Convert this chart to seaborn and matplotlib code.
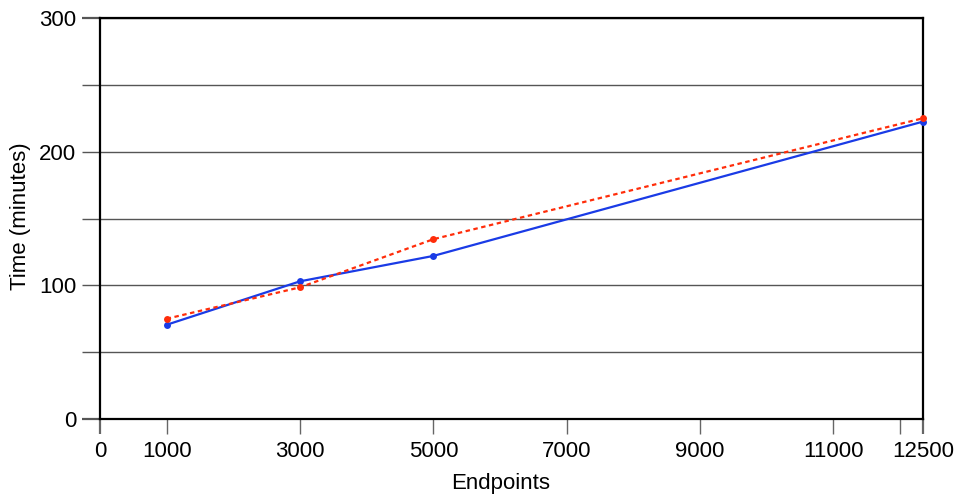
import numpy as np
import pandas as pd
import matplotlib
matplotlib.use("Agg")
import matplotlib.pyplot as plt
import seaborn as sns

# Measured run times (minutes) per endpoint count
endpoints = [1000, 3000, 5000, 12500]
series_a = [70.5, 103.0, 122.0, 222.5]   # solid blue
series_b = [75.0, 98.5, 134.5, 225.0]    # dotted red
series_names = ["A", "B"]

x_ticks = [0, 1000, 3000, 5000, 7000, 9000, 11000, 12000, 12500]
x_labels = ["0", "1000", "3000", "5000", "7000", "9000", "11000", "", "12500"]
y_major = [0, 100, 200, 300]
y_minor = [50, 150, 250]

sns.set_style("white")
plt.rcParams["font.family"] = ["Liberation Sans", "DejaVu Sans"]
plt.rcParams["text.color"] = "black"
plt.rcParams["axes.labelcolor"] = "black"
plt.rcParams["xtick.labelcolor"] = "black"
plt.rcParams["ytick.labelcolor"] = "black"

df = pd.DataFrame({
    "Endpoints": endpoints * 2,
    "Time": series_a + series_b,
    "Series": [series_names[0]] * len(endpoints) + [series_names[1]] * len(endpoints),
})

fig = plt.figure(figsize=(9.55, 4.95), dpi=100)
ax = fig.add_axes([100 / 955, 1 - 419 / 495, 823 / 955, 401 / 495])

# x axis compresses slightly past 12000
def fwd(x):
    x = np.asarray(x, dtype=float)
    return np.where(x <= 12000, x, 12000 + (x - 12000) * 0.69)

def inv(u):
    u = np.asarray(u, dtype=float)
    return np.where(u <= 12000, u, 12000 + (u - 12000) / 0.69)

ax.set_xscale("function", functions=(fwd, inv))

palette = {series_names[0]: "#1a3be6", series_names[1]: "#ff2d0a"}
sns.lineplot(data=df, x="Endpoints", y="Time", hue="Series", palette=palette,
             style="Series", dashes={series_names[0]: "", series_names[1]: (2, 1.6)},
             markers={series_names[0]: "o", series_names[1]: "o"},
             markersize=5, markeredgewidth=0, linewidth=1.6, legend=False,
             ax=ax, clip_on=False, zorder=3)

ax.set_xlim(0, 12500)
ax.set_ylim(0, 300)
ax.set_xticks(x_ticks)
ax.set_xticklabels(x_labels)
ax.set_yticks(y_major)
ax.set_yticks(y_minor, minor=True)
ax.xaxis.set_minor_locator(matplotlib.ticker.NullLocator())

ax.tick_params(axis="x", which="major", direction="out", length=11, width=1,
               color="#666666", labelsize=16, pad=5, bottom=True, labelcolor="black")
ax.tick_params(axis="y", which="both", direction="out", length=13, width=1,
               color="#555555", labelsize=16, pad=4, left=True, labelcolor="black")

for idx in (0, len(x_ticks) - 1):
    t = ax.xaxis.get_major_ticks()[idx]
    t.tick1line.set_color("black")
    t.tick1line.set_markeredgewidth(1.6)
for idx in (0, len(y_major) - 1):
    t = ax.yaxis.get_major_ticks()[idx]
    t.tick1line.set_color("black")
    t.tick1line.set_markeredgewidth(1.6)

ax.yaxis.grid(True, which="both", color="#555555", linewidth=1)
ax.xaxis.grid(False)
ax.set_axisbelow(True)

for side in ["left", "right", "top", "bottom"]:
    ax.spines[side].set_visible(True)
    ax.spines[side].set_color("black")
    ax.spines[side].set_linewidth(1.6)

ax.set_xlabel("Endpoints", fontsize=16, color="black")
ax.set_ylabel("Time (minutes)", fontsize=16, color="black")
ax.xaxis.set_label_coords(0.487, -0.135)
ax.yaxis.label.set_va("center")
ax.yaxis.set_label_coords(-0.097, 0.505)

fig.savefig("out.png", dpi=100, facecolor="white")
